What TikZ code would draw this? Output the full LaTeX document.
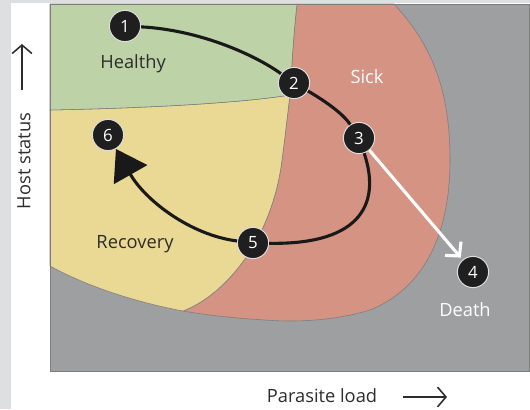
\documentclass[tikz,border=0pt]{standalone}
\usepackage{fontspec}
\setmainfont{Open Sans}
\usetikzlibrary{arrows.meta}
\definecolor{healthy}{RGB}{189,210,166}
\definecolor{recovery}{RGB}{233,217,148}
\definecolor{sick}{RGB}{213,147,131}
\definecolor{death}{RGB}{158,159,161}
\definecolor{margin}{RGB}{222,223,225}
\definecolor{edge}{RGB}{125,125,125}
\definecolor{ink}{RGB}{45,45,45}

\begin{document}
\begin{tikzpicture}[x=0.025cm,y=-0.025cm,
  stage/.style={circle,fill=black!88,draw=white!75!gray,line width=0.7pt,
    minimum size=0.78cm,inner sep=0pt,text=white,font=\fontsize{12}{12}\selectfont},
  label/.style={text=ink,font=\fontsize{13}{13}\selectfont},
  track/.style={line width=2.2pt,black!90},
  axis/.style={ink,line width=1.1pt,-{Straight Barb[length=6pt,width=14pt]}}]
  \useasboundingbox (0,0) rectangle (530,409);
  \fill[margin] (0,0) rectangle (530,409);
  \fill[white] (11,3) rectangle (530,409);
  \fill[death] (50,4) rectangle (529,371);
  % regions
  \filldraw[fill=sick,draw=edge,line width=0.4pt] (297,4) -- (394,4)
    .. controls (432,45) and (450,90) .. (450,160)
    .. controls (450,240) and (420,290) .. (370,310)
    .. controls (330,322) and (290,322) .. (265,320)
    .. controls (230,318) and (200,314) .. (183,311)
    .. controls (225,295) and (272,240) .. (282,160)
    .. controls (286,130) and (288,110) .. (290,95)
    .. controls (292,60) and (294,30) .. (297,4) -- cycle;
  \filldraw[fill=recovery,draw=edge,line width=0.4pt] (50,110)
    .. controls (150,108) and (240,103) .. (290,95)
    .. controls (288,110) and (286,130) .. (282,160)
    .. controls (272,240) and (225,295) .. (183,311)
    .. controls (140,303) and (90,288) .. (50,266) -- cycle;
  \filldraw[fill=healthy,draw=edge,line width=0.4pt] (50,4) -- (297,4)
    .. controls (294,30) and (292,60) .. (290,95)
    .. controls (240,103) and (150,108) .. (50,110) -- cycle;
  \draw[edge,line width=0.6pt] (50,4) rectangle (529,371);
  \node[label] (healthy) at (133,64) {Healthy};
  \node[label,text=white] (sick) at (367,77) {Sick};
  \node[label] (recovery) at (135,244) {Recovery};
  \node[label,text=white] (death) at (465,310) {Death};
  % stages
  \node[stage] (s1) at (125,26) {1};
  \node[stage] (s2) at (294,83) {2};
  \node[stage] (s3) at (359,138) {3};
  \node[stage] (s4) at (473,272) {4};
  \node[stage] (s5) at (253,243) {5};
  \node[stage] (s6) at (108,135) {6};
  \draw[track] (s1) .. controls (200,30) and (255,55) .. (s2);
  \draw[track] (s2) .. controls (320,98) and (342,112) .. (s3);
  \draw[track] (s3) .. controls (380,200) and (365,245) .. (s5);
  \draw[track,-{Triangle[length=21pt,width=27pt]}] (s5) .. controls (190,235) and (145,200) .. (s6);
  \draw[track,white,shorten >=2pt,-{Straight Barb[length=7pt,width=15pt]}] (s3) -- (s4);
  % axes
  \node[label,rotate=90] (host) at (24,161) {Host status};
  \node[label] (load) at (322,396) {Parasite load};
  \coordinate (up0) at (22,90);
  \coordinate (up1) at (22,44);
  \coordinate (right0) at (403,397);
  \coordinate (right1) at (447,397);
  \draw[axis] (up0) -- (up1);
  \draw[axis] (right0) -- (right1);
\end{tikzpicture}
\end{document}
